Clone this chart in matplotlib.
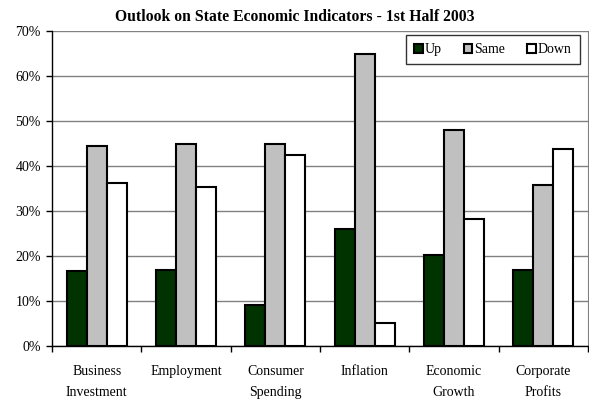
import numpy as np
import matplotlib.pyplot as plt

plt.rcParams['font.family'] = ['Liberation Serif', 'DejaVu Serif']

# Survey shares (percent) by indicator
categories = ["Business\nInvestment", "Employment", "Consumer\nSpending",
              "Inflation", "Economic\nGrowth", "Corporate\nProfits"]
up = [16.6, 17.0, 9.2, 26.0, 20.2, 17.0]
same = [44.5, 45.0, 45.0, 65.0, 48.0, 35.8]
down = [36.2, 35.4, 42.5, 5.1, 28.3, 43.7]

series = [("Up", up, "#003300"), ("Same", same, "#c0c0c0"), ("Down", down, "#ffffff")]

fig = plt.figure(figsize=(5.89, 4.0), dpi=100)
ax = fig.add_axes([52 / 589, 1 - 346 / 400, (588 - 52) / 589, (346 - 31) / 400])

x = np.arange(len(categories))
w = 0.225
for i, (name, vals, col) in enumerate(series):
    ax.bar(x + (i - 1) * w, vals, w, color=col, edgecolor="black",
           linewidth=1.5, label=name, zorder=3)

ax.set_xlim(-0.5, len(categories) - 0.5)
ax.set_ylim(0, 70)
ax.set_yticks(np.arange(0, 71, 10))
ax.set_yticklabels([f"{v}%" for v in range(0, 71, 10)], fontsize=10)
ax.yaxis.grid(True, color="#808080", linewidth=1, zorder=0)
ax.set_axisbelow(True)

# category labels sit between the boundary ticks
ax.set_xticks(np.arange(-0.5, len(categories), 1))
ax.set_xticklabels([])
ax.set_xticks(x, minor=True)
ax.set_xticklabels(categories, minor=True, fontsize=10, linespacing=1.75)
ax.tick_params(axis="x", which="minor", length=0, pad=14)
ax.tick_params(axis="x", which="major", length=4, direction="out", width=1)
ax.tick_params(axis="y", length=4, direction="out", width=1, pad=4)

ax.spines["top"].set_visible(False)
ax.spines["right"].set_color("#808080")
ax.spines["left"].set_linewidth(1)
ax.spines["bottom"].set_linewidth(1)

fig.suptitle("Outlook on State Economic Indicators - 1st Half 2003",
             fontsize=11.3, fontweight="bold", y=0.978)

leg = ax.legend(loc="upper right", bbox_to_anchor=(0.985, 0.988), ncol=3,
                fontsize=10, frameon=True, fancybox=False, handlelength=0.6,
                handleheight=0.6, handletextpad=0.15, columnspacing=1.6,
                borderpad=0.6, borderaxespad=0)
leg.get_frame().set_edgecolor("black")
leg.get_frame().set_linewidth(1)

fig.savefig("out.png", dpi=100)
